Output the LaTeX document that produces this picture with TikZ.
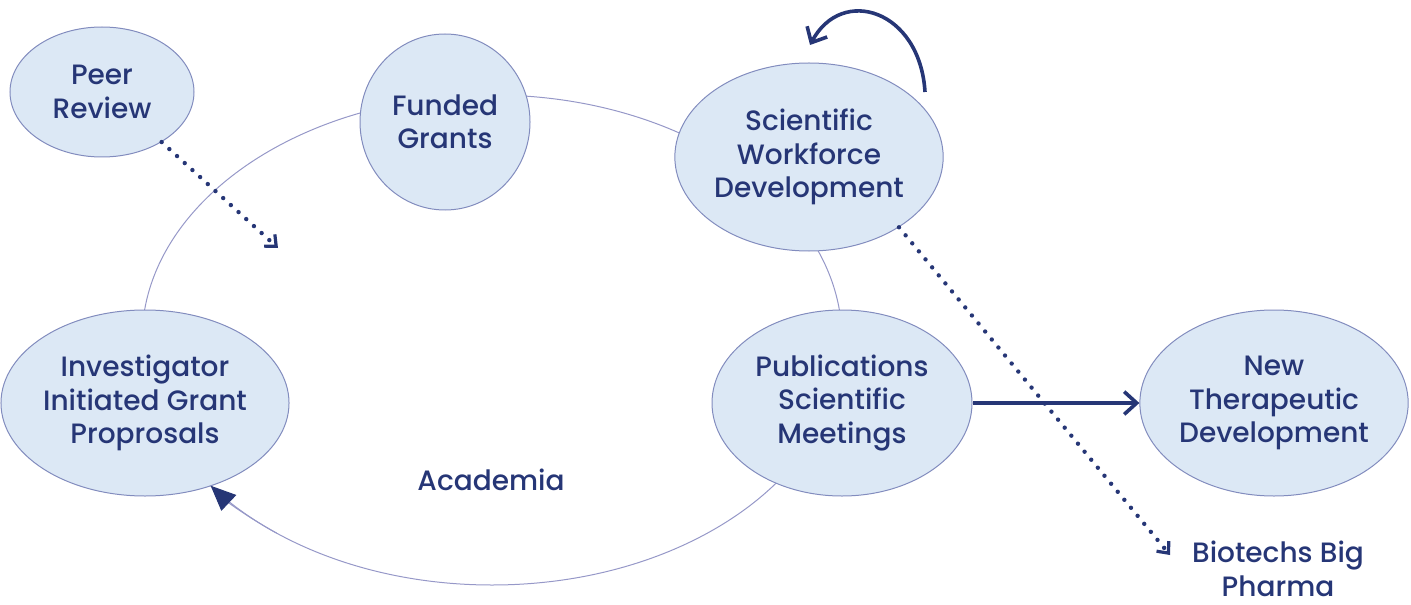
\documentclass[tikz,border=0pt]{standalone}
\usepackage{fontspec}
\setmainfont{Poppins}[UprightFont=* Medium]
\usetikzlibrary{arrows.meta,shapes.geometric}

\definecolor{navy}{RGB}{38,54,118}
\definecolor{bubblefill}{RGB}{220,232,245}
\definecolor{bubbleline}{RGB}{130,140,190}
\definecolor{loopline}{RGB}{150,152,200}

\begin{document}
\begin{tikzpicture}[x=0.5pt, y=0.5pt,
    every node/.style={text=navy, font=\fontsize{14}{16.75}\selectfont, align=center},
    bubble/.style={ellipse, draw=bubbleline, line width=0.5pt, fill=bubblefill, inner sep=0pt},
    dots/.style={navy, line width=2.2pt, line cap=round, dash pattern=on 0pt off 5.2pt,
        -{Straight Barb[length=1.6mm, width=2.8mm, line width=1.6pt]}},
    thick arrow/.style={navy, line width=1.8pt, -{Straight Barb[length=2.2mm, width=4mm]}}]
    \useasboundingbox (0,0) rectangle (1411,-604);

    % Academia cycle
    \draw[loopline, line width=0.5pt] (492,-340) ellipse [x radius=350, y radius=245];
    \draw[loopline, line width=0.5pt, -{Triangle[length=4.4mm, width=3.8mm, fill=navy, color=navy]}]
        (492,-340) ++(232:350 and 245) arc [start angle=232, end angle=216.5, x radius=350, y radius=245];

    % Bubbles
    \node[bubble, minimum width=92pt, minimum height=65pt] (peer) at (102,-92) {Peer\\Review};
    \node[bubble, minimum width=85pt, minimum height=88pt] (grants) at (445,-122) {Funded\\Grants};
    \node[bubble, minimum width=131pt, minimum height=94pt] (workforce) at (809,-157) {Scientific\\Workforce\\Development};
    \node[bubble, minimum width=135pt, minimum height=93pt] (proposals) at (145,-403) {Investigator\\Initiated Grant\\Proprosals};
    \node[bubble, minimum width=130pt, minimum height=93pt] (pubs) at (842,-403) {Publications\\Scientific\\Meetings};
    \node[bubble, minimum width=131pt, minimum height=93pt] (therapeutic) at (1274,-403) {New\\Therapeutic\\Development};

    % Labels
    \node (academia) at (491,-480) {Academia};
    \node (pharma) at (1278,-569) {Biotechs Big\\Pharma};

    % Arrows
    \coordinate (reviewEnd) at (278,-248);
    \coordinate (loopStart) at (925,-92);
    \coordinate (loopEnd) at (810,-45);
    \coordinate (pharmaEnd) at (1170,-555);
    \draw[dots] (peer.-40) -- (reviewEnd);
    \draw[dots] (workforce.-38) -- (pharmaEnd);
    \draw[thick arrow] (loopStart) .. controls (920,-10) and (842,15) .. (loopEnd);
    \draw[thick arrow] (pubs) -- (therapeutic);

\end{tikzpicture}
\end{document}
